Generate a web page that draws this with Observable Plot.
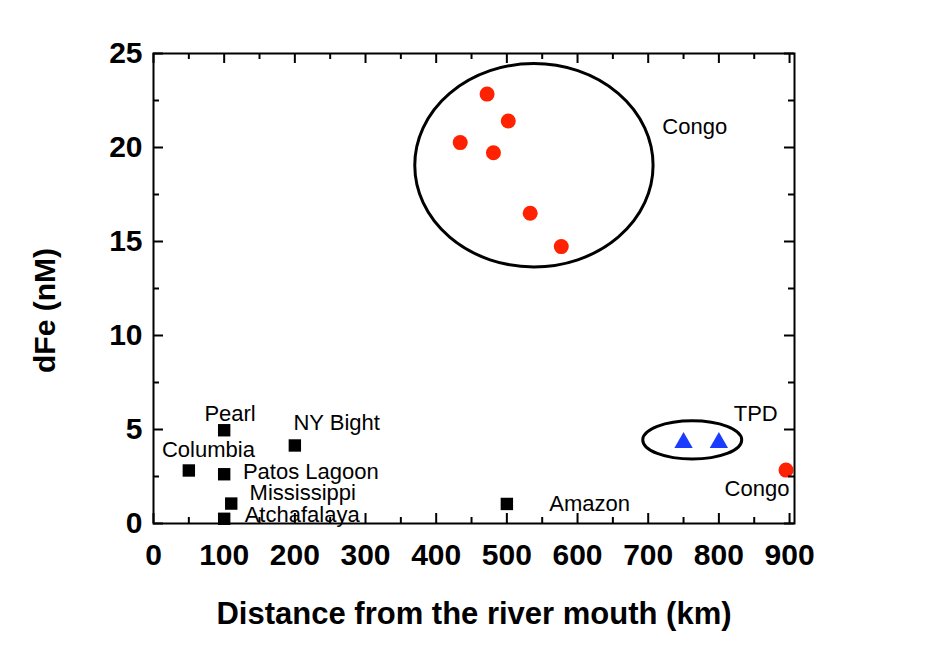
<!DOCTYPE html>
<html>
<head>
<meta charset="utf-8">
<script src="https://cdn.jsdelivr.net/npm/d3@7"></script>
<script src="https://cdn.jsdelivr.net/npm/@observablehq/plot@0.6"></script>
<style>
  html, body { margin: 0; padding: 0; background: #fff; }
  svg { display: block; }
</style>
</head>
<body>
<div id="chart"></div>
<script>
// ---- data ----
const riverNames = ["Pearl", "NY Bight", "Columbia", "Patos Lagoon", "Mississippi", "Atchafalaya", "Amazon"];
const riverDist  = [100, 200, 50, 100, 110, 100, 500];
const riverDFe   = [4.96, 4.15, 2.82, 2.62, 1.06, 0.25, 1.04];

const congoDist = [472, 502, 434, 481, 533, 577, 895];
const congoDFe  = [22.84, 21.41, 20.26, 19.72, 16.5, 14.73, 2.84];

const tpdDist = [750, 800];
const tpdDFe  = [4.3, 4.3];

// annotation labels (data coordinates of text start, cap-centre)
const labelText = ["Pearl", "NY Bight", "Columbia", "Patos Lagoon", "Mississippi", "Atchafalaya", "Amazon", "TPD", "Congo", "Congo"];
const labelX    = [72, 198, 12, 126.5, 136, 129, 560, 821, 720, 808];
const labelY    = [5.84, 5.36, 3.91, 2.73, 1.62, 0.45, 1.05, 5.83, 21.1, 1.84];

// grouping ellipses (centre and semi-axes in data units)
const ellipseCx = [539, 763];
const ellipseCy = [19.03, 4.42];
const ellipseRx = [168.6, 70];
const ellipseRy = [5.41, 1.02];

const xMajor = [0, 100, 200, 300, 400, 500, 600, 700, 800, 900];
const xMinor = [50, 150, 250, 350, 450, 550, 650, 750, 850];
const yMajor = [0, 5, 10, 15, 20, 25];
const yMinor = [2.5, 7.5, 12.5, 17.5, 22.5];

// ---- build ----
const rivers = riverNames.map((n, i) => ({name: n, x: riverDist[i], y: riverDFe[i]}));
const congo = congoDist.map((d, i) => ({x: d, y: congoDFe[i]}));
const tpd = tpdDist.map((d, i) => ({x: d, y: tpdDFe[i]}));
const labels = labelText.map((t, i) => ({t, x: labelX[i], y: labelY[i]}));
const ellipses = ellipseCx.map((c, i) => ({cx: c, cy: ellipseCy[i], rx: ellipseRx[i], ry: ellipseRy[i]}));

const W = 942, H = 657;
const mL = 153, mR = 148, mT = 53, mB = 134;
const plotW = W - mL - mR, plotH = H - mT - mB;
const font = "'Liberation Sans', Arial, Helvetica, sans-serif";
const major = 10, minor = 6;

const ellipseMark = (index, scales) => {
  const g = d3.create("svg:g");
  for (const e of ellipses) {
    const cx = scales.x(e.cx), cy = scales.y(e.cy);
    g.append("ellipse")
      .attr("cx", cx).attr("cy", cy)
      .attr("rx", scales.x(e.cx + e.rx) - cx)
      .attr("ry", scales.y(e.cy - e.ry) - cy)
      .attr("fill", "none").attr("stroke", "#000").attr("stroke-width", 3);
  }
  return g.node();
};

const chart = Plot.plot({
  width: W, height: H,
  marginLeft: mL, marginRight: mR, marginTop: mT, marginBottom: mB,
  style: {fontFamily: font, background: "#fff", color: "#000"},
  x: {domain: [0, 907]},
  y: {domain: [0, 25]},
  marks: [
    ellipseMark,
    Plot.text(labels, {x: "x", y: "y", text: "t", textAnchor: "start", fontSize: 22, fill: "#000"}),
    Plot.dot(rivers, {x: "x", y: "y", symbol: "square", r: 7, fill: "#000", stroke: null}),
    Plot.dot(congo, {x: "x", y: "y", symbol: "circle", r: 7.5, fill: "#ff2200", stroke: null}),
    Plot.dot(tpd, {x: "x", y: "y", symbol: "triangle", r: 6.8, fill: "#1a3cff", stroke: null}),
    // inward ticks on all four sides
    Plot.ruleX(xMajor, {x: d => d, insetTop: plotH - major, strokeWidth: 2}),
    Plot.ruleX(xMinor, {x: d => d, insetTop: plotH - minor, strokeWidth: 2}),
    Plot.ruleX(xMajor, {x: d => d, insetBottom: plotH - major, strokeWidth: 2}),
    Plot.ruleX(xMinor, {x: d => d, insetBottom: plotH - minor, strokeWidth: 2}),
    Plot.ruleY(yMajor, {y: d => d, insetRight: plotW - major, strokeWidth: 2}),
    Plot.ruleY(yMinor, {y: d => d, insetRight: plotW - minor, strokeWidth: 2}),
    Plot.ruleY(yMajor, {y: d => d, insetLeft: plotW - major, strokeWidth: 2}),
    Plot.ruleY(yMinor, {y: d => d, insetLeft: plotW - minor, strokeWidth: 2}),
    Plot.frame({stroke: "#000", strokeWidth: 2}),
    Plot.axisX(xMajor, {tickSize: 0, tickPadding: 20, fontSize: 30, fontWeight: "bold", label: null}),
    Plot.axisY(yMajor, {tickSize: 0, tickPadding: 11, fontSize: 30, fontWeight: "bold", label: null}),
    Plot.text(["Distance from the river mouth (km)"], {frameAnchor: "bottom", textAnchor: "middle", lineAnchor: "bottom", dy: 100, fontSize: 31, fontWeight: "bold", fill: "#000"}),
    Plot.text(["dFe (nM)"], {frameAnchor: "left", textAnchor: "middle", lineAnchor: "bottom", rotate: -90, dx: -99, dy: 22, fontSize: 30, fontWeight: "bold", fill: "#000"})
  ]
});
document.getElementById("chart").appendChild(chart);
</script>
</body>
</html>
